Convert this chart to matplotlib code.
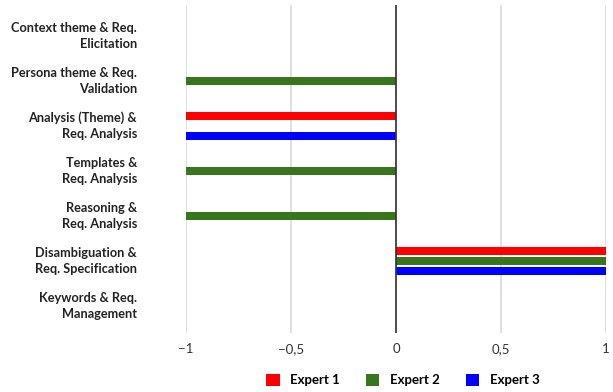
import matplotlib.pyplot as plt
from matplotlib.patches import Patch
import matplotlib.transforms as mtransforms
import numpy as np

categories = ['Context theme & Req.\nElicitation',
              'Persona theme & Req.\nValidation',
              'Analysis (Theme) &\nReq. Analysis',
              'Templates &\nReq. Analysis',
              'Reasoning &\nReq. Analysis',
              'Disambiguation &\nReq. Specification',
              'Keywords & Req.\nManagement']
expert1 = [0, 0, -1, 0, 0, 1, 0]
expert2 = [0, -1, 0, -1, -1, 1, 0]
expert3 = [0, 0, -1, 0, 0, 1, 0]
series_names = ['Expert 1', 'Expert 2', 'Expert 3']
colors = ['#ff0000', '#38761d', '#0000ff']
xticks = [-1, -0.5, 0, 0.5, 1]
xticklabels = ['\u22121', '\u22120,5', '0', '0,5', '1']

plt.rcParams['font.family'] = ['Lato', 'DejaVu Sans']

fig = plt.figure(figsize=(6.13, 3.92), dpi=100)
ax = fig.add_axes([186/613, 1-333/392, 420/613, 328/392])

y = np.arange(len(categories))
offsets = [-0.222, 0, 0.222]
for vals, off, c in zip([expert1, expert2, expert3], offsets, colors):
    ax.barh(y + off, vals, height=0.16, color=c, zorder=3)

ax.set_xlim(-1, 1)
ax.set_ylim(6.6, -0.69)
ax.set_yticks(y)
ax.set_yticklabels([])
# category labels, right aligned line by line
trans = mtransforms.blended_transform_factory(ax.transAxes, ax.transData)
for yi, lab in zip(y, categories):
    ax.text(-49/420, yi, lab, transform=trans, ha='right', va='center',
            multialignment='right', fontweight='bold', fontsize=9.2,
            color='#222222', linespacing=1.4)
ax.set_xticks(xticks)
ax.set_xticklabels(xticklabels, fontsize=9.5, color='#333333')
ax.tick_params(axis='y', length=0)
ax.tick_params(axis='x', length=0, pad=7)
for s in ax.spines.values():
    s.set_visible(False)
ax.grid(axis='x', color='#d9d9d9', linewidth=1.2, zorder=0)
ax.axvline(0, color='#333333', linewidth=1.2, zorder=4)

handles = [Patch(facecolor=c, label=n) for c, n in zip(colors, series_names)]
fig.legend(handles=handles, loc='center', bbox_to_anchor=(403/613, 1-380/392),
           ncol=3, frameon=False, prop={'weight': 'bold', 'size': 9.5},
           handlelength=1.0, handleheight=1.0, columnspacing=2.0, handletextpad=0.8)

fig.savefig('out.png', dpi=100)
